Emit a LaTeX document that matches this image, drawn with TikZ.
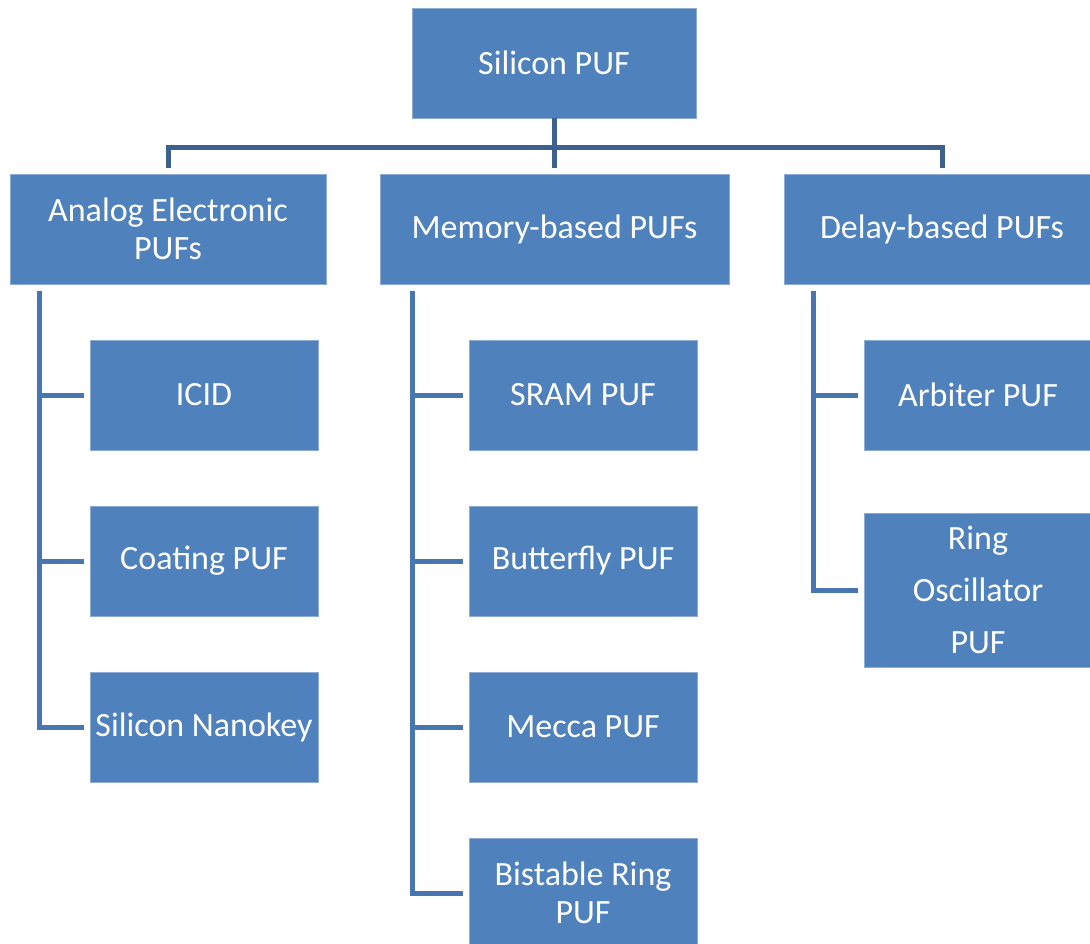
\documentclass[tikz,border=0pt]{standalone}
\usepackage{fontspec}
\setmainfont{Carlito}
\usepackage{tikz}
\usetikzlibrary{calc}
\definecolor{boxfill}{RGB}{79, 129, 189}
\definecolor{boxedge}{RGB}{140, 172, 212}
\definecolor{trunk}{RGB}{60, 97, 142}
\definecolor{branch}{RGB}{72, 118, 176}

\begin{document}
\begin{tikzpicture}[x=1pt, y=-1pt,
    puf/.style={rectangle, fill=boxfill, draw=boxedge, line width=0.8pt, text=white,
      font=\fontsize{34pt}{38pt}\selectfont, align=center, inner sep=0pt,
      minimum height=110pt},
    leaf/.style={puf, minimum width=228pt},
    busline/.style={trunk, line width=5pt},
    twig/.style={branch, line width=5pt, shorten >=6pt}]
  \useasboundingbox (0,0) rectangle (1090,944);
  \clip (0,0) rectangle (1090,944);

  % top level and the three families
  \node[puf, minimum width=284pt] (root) at (554,63) {Silicon PUF};
  \node[puf, minimum width=316pt] (analog) at (168,229) {Analog Electronic\\PUFs};
  \node[puf, minimum width=349pt] (memory) at (554.5,229) {Memory-based PUFs};
  \node[puf, minimum width=316pt] (delay) at (942,229) {Delay-based PUFs};

  % members of each family
  \node[leaf] (icid) at (204,395) {ICID};
  \node[leaf] (coating) at (204,561) {Coating PUF};
  \node[leaf] (nanokey) at (204,727) {Silicon Nanokey};

  \node[leaf] (sram) at (583,395) {SRAM PUF};
  \node[leaf] (butterfly) at (583,561) {Butterfly PUF};
  \node[leaf] (mecca) at (583,727) {Mecca PUF};
  \node[leaf] (bistable) at (583,893) {Bistable Ring\\PUF};

  \node[leaf] (arbiter) at (978,395) {Arbiter PUF};
  \node[leaf, minimum height=154pt] (ringosc) at (978,590) {Ring\\[14pt]Oscillator\\[14pt]PUF};

  % bus under the root
  \coordinate (bus) at ($(root.south)+(0,29)$);
  \draw[busline] (root.south) -- (bus);
  \foreach \fam in {analog, memory, delay}
    \draw[busline, shorten >=6pt] (bus) -| (\fam.north);

  % spines down the left side of each family
  \coordinate (aspine) at ($(analog.south west)+(30,7)$);
  \coordinate (mspine) at ($(memory.south west)+(33,7)$);
  \coordinate (dspine) at ($(delay.south west)+(30,7)$);
  \foreach \kid in {icid, coating, nanokey}
    \draw[twig] (aspine) |- (\kid.west);
  \foreach \kid in {sram, butterfly, mecca, bistable}
    \draw[twig] (mspine) |- (\kid.west);
  \foreach \kid in {arbiter, ringosc}
    \draw[twig] (dspine) |- (\kid.west);
\end{tikzpicture}
\end{document}
